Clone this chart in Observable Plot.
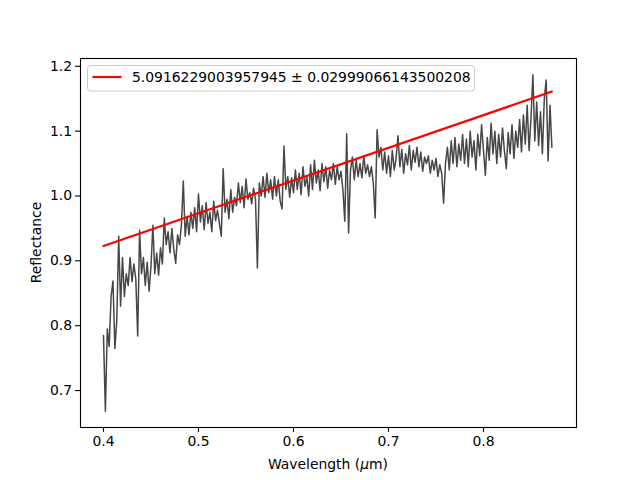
<!DOCTYPE html>
<html><head><meta charset="utf-8">
<script src="https://cdn.jsdelivr.net/npm/d3@7"></script>
<script src="https://cdn.jsdelivr.net/npm/@observablehq/plot@0.6"></script>
<style>
body{margin:0;background:#fff;}
#chart svg{font-family:"DejaVu Sans",sans-serif;}
</style>
</head><body><div id="chart"></div>
<script>
// Reflectance spectrum, sampled every 0.002 µm starting at 0.400 µm
const wlStart = 0.400;
const wlStep = 0.002;
const reflectance = [
  0.785, 0.668, 0.795, 0.768, 0.845, 0.869, 0.765, 0.808, 0.938, 0.830,
  0.905, 0.845, 0.880, 0.862, 0.905, 0.868, 0.895, 0.872, 0.784, 0.947,
  0.880, 0.905, 0.862, 0.898, 0.853, 0.892, 0.955, 0.880, 0.912, 0.878,
  0.920, 0.895, 0.966, 0.925, 0.945, 0.912, 0.950, 0.918, 0.896, 0.940,
  0.925, 0.955, 1.023, 0.938, 0.968, 0.940, 0.975, 0.950, 0.982, 0.945,
  1.003, 0.960, 0.985, 0.948, 0.990, 0.958, 0.975, 0.945, 0.992, 0.962,
  0.978, 0.958, 0.938, 1.042, 0.975, 0.995, 0.965, 1.010, 0.975, 0.998,
  0.985, 1.020, 0.990, 1.015, 0.982, 1.026, 0.995, 1.005, 0.988, 1.012,
  0.995, 0.889, 1.020, 1.000, 1.030, 0.998, 1.035, 1.005, 1.025, 0.995,
  1.030, 1.000, 1.025, 0.992, 0.980, 1.077, 1.010, 1.030, 0.998, 1.028,
  1.005, 1.040, 1.010, 1.035, 1.002, 1.045, 1.015, 1.030, 1.000, 1.048,
  1.010, 1.055, 1.020, 1.040, 1.008, 1.050, 1.022, 1.045, 1.012, 1.040,
  1.025, 1.050, 1.018, 1.045, 1.025, 1.038, 1.010, 0.961, 1.096, 0.943,
  1.040, 1.060, 1.025, 1.055, 1.030, 1.050, 1.028, 1.062, 1.035, 1.048,
  1.030, 1.045, 1.020, 0.966, 1.102, 1.060, 1.075, 1.040, 1.068, 1.035,
  1.062, 1.030, 1.070, 1.040, 1.058, 1.093, 1.045, 1.072, 1.035, 1.065,
  1.048, 1.078, 1.040, 1.070, 1.052, 1.075, 1.045, 1.068, 1.038, 1.060,
  1.050, 1.062, 1.035, 1.055, 1.040, 1.058, 1.030, 1.048, 1.035, 0.989,
  1.050, 1.075, 1.040, 1.085, 1.050, 1.090, 1.045, 1.080, 1.055, 1.095,
  1.050, 1.088, 1.045, 1.100, 1.060, 1.085, 1.040, 1.095, 1.062, 1.110,
  1.070, 1.032, 1.090, 1.055, 1.112, 1.065, 1.100, 1.050, 1.095, 1.060,
  1.105, 1.070, 1.042, 1.098, 1.065, 1.110, 1.058, 1.100, 1.075, 1.118,
  1.068, 1.125, 1.080, 1.140, 1.070, 1.120, 1.187, 1.085, 1.145, 1.078,
  1.130, 1.065, 1.150, 1.179, 1.054, 1.140, 1.075
];
const wavelength = reflectance.map((_, i) => +(wlStart + i * wlStep).toFixed(3));

// Linear fit line (endpoints)
const fitWavelength = [0.400, 0.872];
const fitReflectance = [0.923, 1.161];
const legendLabel = "5.0916229003957945 \u00b1 0.02999066143500208";

const xTicks = [0.4, 0.5, 0.6, 0.7, 0.8];
const yTicks = [0.7, 0.8, 0.9, 1.0, 1.1, 1.2];

const spectrum = wavelength.map((w, i) => ({w, r: reflectance[i]}));
const fit = fitWavelength.map((w, i) => ({w, r: fitReflectance[i]}));

const FS = "13.9px";
const plot = Plot.plot({
  width: 640, height: 480,
  marginLeft: 80, marginRight: 64, marginTop: 58, marginBottom: 53,
  style: {fontFamily: "DejaVu Sans, sans-serif", fontSize: FS, color: "#000", background: "#fff", overflow: "visible"},
  x: {domain: [0.3758, 0.8979]},
  y: {domain: [0.643, 1.212]},
  marks: [
    Plot.line(spectrum, {x: "w", y: "r", stroke: "#474747", strokeWidth: 1.5}),
    Plot.line(fit, {x: "w", y: "r", stroke: "#ff0000", strokeWidth: 2.2}),
    Plot.frame({stroke: "#000", strokeWidth: 1.1}),
    Plot.axisX({ticks: xTicks, tickFormat: d3.format(".1f"), tickSize: 4.9, tickPadding: 3.5, label: null, stroke: "#000", strokeWidth: 1.1, fill: "#000", fontSize: FS}),
    Plot.axisY({ticks: yTicks, tickFormat: d3.format(".1f"), tickSize: 4.9, tickPadding: 3.5, label: null, stroke: "#000", strokeWidth: 1.1, fill: "#000", fontSize: FS})
  ]
});
document.getElementById("chart").appendChild(plot);

const svg = d3.select(plot);
// Axis labels
const xl = svg.append("text").attr("x", 328).attr("y", 469).attr("text-anchor", "middle")
  .attr("font-size", FS).attr("fill", "#000");
xl.append("tspan").text("Wavelength (");
xl.append("tspan").attr("font-style", "italic").text("\u03bc");
xl.append("tspan").text("m)");
svg.append("text").attr("transform", "translate(41,242.5) rotate(-90)").attr("text-anchor", "middle")
  .attr("font-size", FS).attr("fill", "#000").text("Reflectance");

// Legend
const lg = svg.append("g");
lg.append("rect").attr("x", 87.5).attr("y", 65.5).attr("width", 387).attr("height", 25.5).attr("rx", 3)
  .attr("fill", "#fff").attr("fill-opacity", 0.8).attr("stroke", "#cccccc").attr("stroke-width", 1);
lg.append("line").attr("x1", 92.5).attr("x2", 121.5).attr("y1", 77).attr("y2", 77)
  .attr("stroke", "#ff0000").attr("stroke-width", 2.2);
lg.append("text").attr("x", 132).attr("y", 82).attr("text-anchor", "start")
  .attr("font-size", FS).attr("fill", "#000").text(legendLabel);
</script>
</body></html>
